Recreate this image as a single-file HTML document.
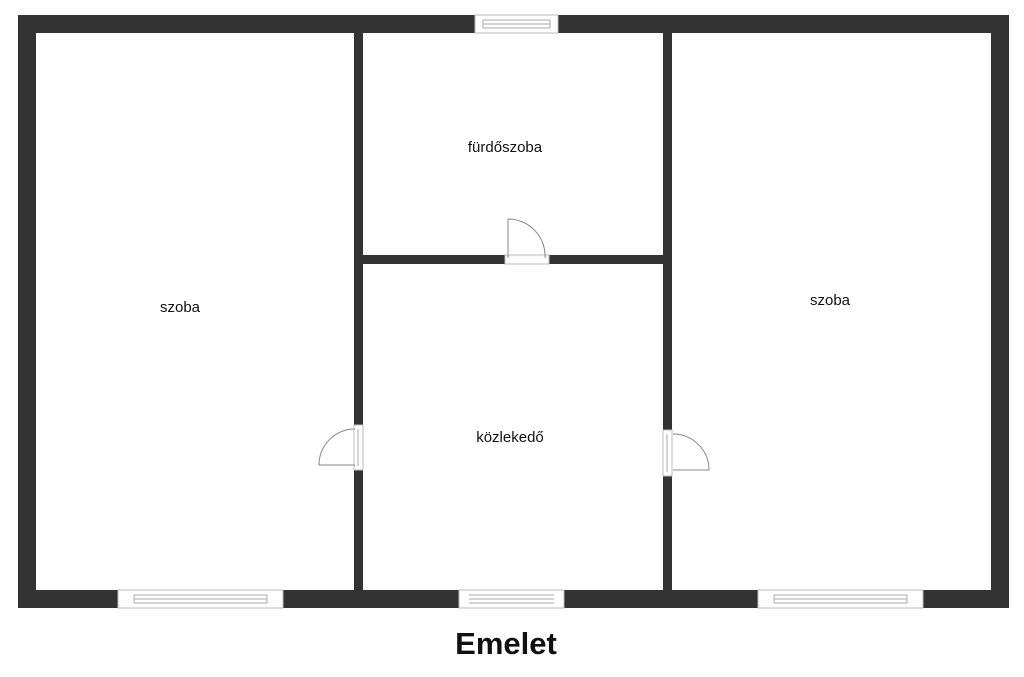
<!DOCTYPE html>
<html><head><style>
body{margin:0;background:#fff;}
.t{font-family:"Liberation Sans",sans-serif;fill:#111;}
</style></head><body>
<svg width="1024" height="672" xmlns="http://www.w3.org/2000/svg">
<g fill="#333">
<rect x="18" y="15" width="991" height="18"/>
<rect x="18" y="590" width="991" height="18"/>
<rect x="18" y="15" width="18" height="593"/>
<rect x="991" y="15" width="18" height="593"/>
<rect x="354" y="33" width="9" height="392"/>
<rect x="354" y="470" width="9" height="121"/>
<rect x="663" y="33" width="9" height="397"/>
<rect x="663" y="476" width="9" height="115"/>
<rect x="363" y="255" width="142" height="9"/>
<rect x="549" y="255" width="114" height="9"/>
</g>
<g fill="#fff" stroke="#bbb" stroke-width="1">
<rect x="475" y="15" width="83" height="18"/>
<rect x="118" y="590" width="165" height="18"/>
<rect x="459" y="590" width="105" height="18"/>
<rect x="758" y="590" width="165" height="18"/>
<rect x="354" y="425" width="9" height="45"/>
<rect x="663" y="430" width="9" height="46"/>
<rect x="505" y="255" width="44" height="9"/>
</g>
<g fill="none" stroke="#aaa" stroke-width="1">
<path d="M483 20H550M483 24H550M483 28H550M483 20V28M550 20V28"/>
<path d="M134 595H267M134 599H267M134 603H267M134 595V603M267 595V603"/>
<path d="M469 595H554M469 599H554M469 603H554"/>
<path d="M774 595H907M774 599H907M774 603H907M774 595V603M907 595V603"/>
<path d="M358 429V466M667 434V472"/>
</g>
<g fill="none" stroke="#888" stroke-width="1">
<path d="M355 429 A36 36 0 0 0 319 465 H355"/>
<path d="M673 434 A36 36 0 0 1 709 470 H673"/>
<path d="M508 258 V219 A37 37 0 0 1 545 258"/>
</g>
<text class="t" x="180" y="312" font-size="15" text-anchor="middle">szoba</text>
<text class="t" x="505" y="152" font-size="15" text-anchor="middle">fürdőszoba</text>
<text class="t" x="510" y="442" font-size="15" text-anchor="middle">közlekedő</text>
<text class="t" x="830" y="305" font-size="15" text-anchor="middle">szoba</text>
<text class="t" x="506" y="654" font-size="31" font-weight="bold" text-anchor="middle">Emelet</text>
</svg>
</body></html>
